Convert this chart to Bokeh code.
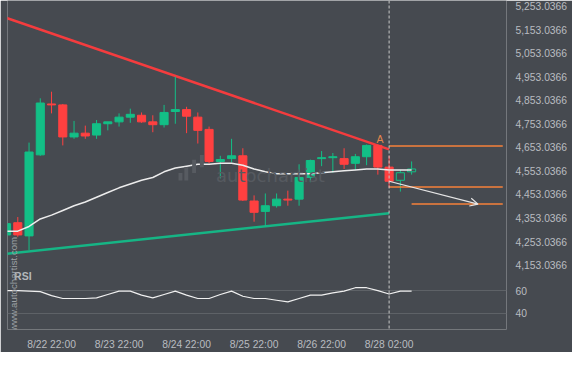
import math
from bokeh.plotting import figure
from bokeh.models import (Range1d, FixedTicker, NumeralTickFormatter, Span, Label,
                          Arrow, OpenHead, ColumnDataSource, BoxAnnotation, Grid)
from bokeh.embed import file_html
from bokeh.resources import INLINE

# ---------------- data ----------------
tick_index = [4, 10, 16, 22, 28, 34]
tick_labels = ["8/22 22:00", "8/23 22:00", "8/24 22:00", "8/25 22:00", "8/26 22:00", "8/28 02:00"]

opens = [4281, 4333, 4277, 4621, 4837, 4833, 4697, 4713, 4705, 4753, 4761, 4781, 4789,
         4761, 4749, 4805, 4813, 4781, 4729, 4593, 4605, 4617, 4425, 4381, 4405, 4433,
         4433, 4525, 4605, 4609, 4605, 4585, 4613, 4661, 4569, 4513, 4549]
highs = [4337, 4357, 4673, 4861, 4889, 4837, 4765, 4745, 4769, 4761, 4797, 4817, 4801,
         4789, 4833, 4953, 4825, 4801, 4741, 4617, 4689, 4649, 4449, 4457, 4457, 4469,
         4581, 4601, 4637, 4629, 4649, 4625, 4665, 4665, 4617, 4557, 4593]
lows = [4273, 4273, 4217, 4617, 4797, 4661, 4689, 4689, 4689, 4725, 4741, 4757, 4757,
        4717, 4737, 4753, 4713, 4669, 4585, 4521, 4589, 4425, 4337, 4317, 4397, 4405,
        4405, 4505, 4573, 4545, 4561, 4557, 4577, 4537, 4481, 4465, 4537]
closes = [4329, 4281, 4633, 4841, 4833, 4697, 4713, 4701, 4753, 4761, 4781, 4793, 4761,
          4749, 4801, 4813, 4785, 4725, 4593, 4601, 4617, 4429, 4377, 4405, 4433, 4429,
          4525, 4597, 4609, 4613, 4581, 4613, 4661, 4569, 4509, 4545, 4561]
ma20 = [4297, 4297, 4317, 4349, 4365, 4385, 4405, 4421, 4441, 4461, 4481, 4497, 4513,
        4525, 4549, 4565, 4573, 4581, 4581, 4585, 4585, 4577, 4561, 4549, 4541, 4541,
        4541, 4541, 4545, 4549, 4553, 4557, 4561, 4561, 4557, 4557, 4557]
rsi = [60, 60, 59.5, 59, 55.5, 53, 53, 53, 53.5, 56.5, 59.5, 59.5, 56, 53.5, 56.5, 59.5,
       56, 53, 53, 56.5, 59.5, 55, 53, 53, 51.5, 50, 53, 56, 56, 58, 59.5, 62.5, 62.5,
       60, 57, 59.5, 59.5]

price_ticks = [4153.0366, 4253.0366, 4353.0366, 4453.0366, 4553.0366, 4653.0366,
               4753.0366, 4853.0366, 4953.0366, 5053.0366, 5153.0366, 5253.0366]
rsi_ticks = [40, 60]

resistance_x = [0, 34]
resistance_y = [5202, 4644]
support_x = [0, 34]
support_y = [4201, 4373]
level_y = [4659, 4484, 4412]
level_x0 = [34, 34, 36]
level_x1 = [44.1, 44.1, 44.1]
forecast_x = [34, 41.9]
forecast_y = [4509, 4412]
pattern_end = 34

# ---------------- layout ----------------
W, H = 572, 352
SX, SY = W / 588.0, H / 368.0           # reference pixels -> figure pixels
FL, FR = 7, 506                          # frame left / right (figure px)
FB = 332                                 # frame bottom (figure px)
FRAME_W = FR - FL
FRAME_H = FB
x_lo = (FL / SX - 6.2) / 11.567
x_hi = (FR / SX - 6.2) / 11.567
kpx = (267.0 - 5.5) / 1100.0
y_hi = 5253.0366 + 5.5 / kpx
y_lo = y_hi - FRAME_H / kpx
rpx = (330 * SY - 306 * SY) / 20.0
r_hi = 60 + 306 * SY / rpx
r_lo = r_hi - FRAME_H / rpx


def ax_(xr):
    """reference pixel x -> data x (for annotation placement)"""
    return x_lo + (xr * SX - FL) / FRAME_W * (x_hi - x_lo)


def ay_(yr):
    """reference pixel y -> price (for annotation placement)"""
    return y_hi - (yr * SY) / kpx


def rsi_to_price(v):
    return round(y_lo + (v - r_lo) / (r_hi - r_lo) * (y_hi - y_lo), 6)


BG = "#464a50"
RED = "#ff4040"
GREEN = "#13bf86"
ORANGE = "#f7823a"
LABEL = "#b9bcc0"
FONT = "Liberation Sans"

p = figure(width=W, height=H, x_range=Range1d(x_lo, x_hi), y_range=Range1d(y_lo, y_hi),
           y_axis_location="right", output_backend="svg", toolbar_location=None,
           min_border_left=FL, min_border_top=0, min_border_right=W - FR,
           min_border_bottom=H - FB, background_fill_color=BG, border_fill_color=BG,
           outline_line_color=None)
p.extra_y_ranges = {"rsi": Range1d(r_lo, r_hi)}

p.xgrid.visible = False
p.ygrid.visible = False
p.add_layout(Grid(dimension=1, ticker=FixedTicker(ticks=rsi_ticks), y_range_name="rsi",
                  grid_line_color="#5e6267", grid_line_width=1))

# watermark
wm_bars = [(183, 187, 182, 190), (189, 193, 176, 190), (197, 201, 168, 182), (205, 209, 163, 176)]
for l, r, t, b in wm_bars:
    p.add_layout(BoxAnnotation(left=ax_(l), right=ax_(r), top=ay_(t), bottom=ay_(b),
                               fill_color="#575b61", fill_alpha=1, line_color=None))
p.add_layout(Label(x=ax_(277.5), y=ay_(185), text="autochartist", text_align="center",
                   text_baseline="middle", text_font="DejaVu Sans", text_font_size="18px",
                   text_color="#565a60"))

# trend lines
p.line(resistance_x, resistance_y, line_color="#f43c3e", line_width=2.5)
p.line(support_x, support_y, line_color="#16b585", line_width=2.5)

# candles
xs = list(range(len(opens)))
colors, fills, tops, bottoms = [], [], [], []
for i, (o, c) in enumerate(zip(opens, closes)):
    col = GREEN if c >= o else RED
    colors.append(col)
    fills.append(BG if i > pattern_end else col)
    tops.append(max(o, c))
    bottoms.append(min(o, c))
src = ColumnDataSource(dict(x=xs, high=highs, low=lows, top=tops, bottom=bottoms,
                            color=colors, fill=fills))
p.segment(x0="x", y0="high", x1="x", y1="low", line_color="color", line_width=1, source=src)
p.vbar(x="x", top="top", bottom="bottom", width=0.72, fill_color="fill",
       line_color="color", line_width=1, source=src)

# moving average
p.line(xs, ma20, line_color="#ececec", line_width=1.5)

# levels
p.segment(x0=level_x0, y0=level_y, x1=level_x1, y1=level_y, line_color=ORANGE, line_width=1.5)

# forecast arrow
p.add_layout(Arrow(end=OpenHead(size=8, line_color="#e6e6e6", line_width=1.2),
                   x_start=forecast_x[0], y_start=forecast_y[0],
                   x_end=forecast_x[1], y_end=forecast_y[1],
                   line_color="#e6e6e6", line_width=1.2))

p.add_layout(Label(x=ax_(390), y=ay_(146), text="A", text_align="center", text_baseline="middle",
                   text_font=FONT, text_font_size="10.5px", text_color="#e5874c"))

# RSI
p.line(xs, rsi, y_range_name="rsi", line_color="#f0f0f0", line_width=1.2)
p.add_layout(Label(x=ax_(14), y=ay_(291), text="RSI", text_align="left", text_baseline="middle",
                   text_font=FONT, text_font_size="10.5px", text_font_style="bold",
                   text_color="#b5b8bc"))
p.add_layout(Label(x=ax_(13), y=ay_(299), text="www.autochartist.com", angle=math.pi / 2,
                   text_align="center", text_baseline="middle", text_font=FONT,
                   text_font_size="9.7px", text_color="#9fa2a6"))

# pattern end line
p.add_layout(Span(location=pattern_end, dimension="height", line_color="#c9c9c9",
                  line_width=1, line_dash="3 2"))

# axes
p40, p60 = rsi_to_price(40), rsi_to_price(60)
yax = p.yaxis[0]
yax.ticker = FixedTicker(ticks=price_ticks + [p40, p60])
yax.formatter = NumeralTickFormatter(format="0,0.0000")
yax.major_label_overrides = {p40: "40", p60: "60"}
xax = p.xaxis[0]
xax.ticker = FixedTicker(ticks=tick_index)
xax.major_label_overrides = {i: t for i, t in zip(tick_index, tick_labels)}
for axis, st in ((yax, 3), (xax, 3)):
    axis.axis_line_color = None
    axis.major_tick_line_color = None
    axis.minor_tick_line_color = None
    axis.major_label_text_color = LABEL
    axis.major_label_text_font = FONT
    axis.major_label_text_font_size = "10.3px"
    axis.major_label_standoff = st

open("out.html", "w").write(file_html(p, INLINE))
